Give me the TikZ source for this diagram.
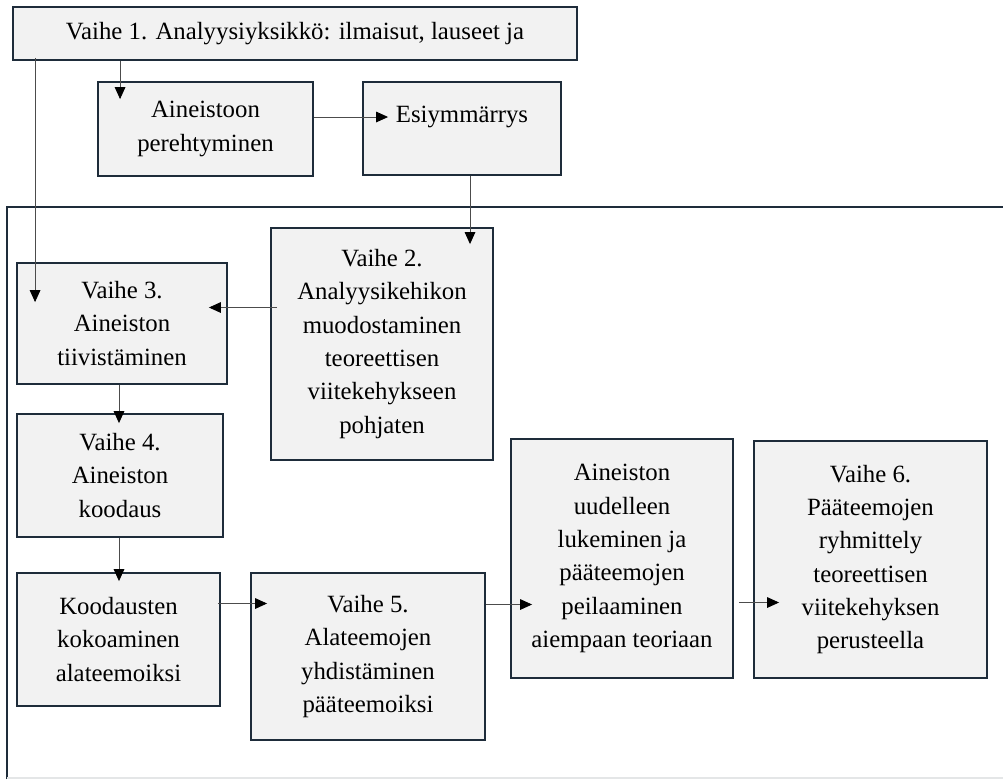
\documentclass[tikz,border=0pt]{standalone}
\usepackage{fontspec}
\setmainfont{Liberation Serif}
\usetikzlibrary{arrows.meta}

\definecolor{boxfill}{HTML}{F2F2F2}
\definecolor{boxline}{HTML}{1E2C3A}

\begin{document}
\begin{tikzpicture}[x=0.75pt, y=-0.75pt,
        box/.style={rectangle, draw=boxline, fill=boxfill, line width=1.4pt, align=center, inner sep=0pt, font=\fontsize{18.6}{25}\selectfont},
        arr/.style={-{Triangle[length=9pt, width=8pt, color=black]}, draw=black!70, line width=0.65pt}]
    \useasboundingbox (0, 0) rectangle (1003, 779);

    % outer frame
    \draw[boxline, line width=1.4pt] (7, 779) -- (7, 207) -- (1003, 207);
    \draw[boxline!12, line width=1pt] (7, 778) -- (1003, 778);

    \node[box, minimum width=423pt, minimum height=39.75pt] (vaihe1) at (295, 33.5) {Vaihe 1. Analyysiyksikkö: ilmaisut, lauseet ja};
    \node[box, minimum width=161.25pt, minimum height=70.5pt] (perehtyminen) at (205.5, 129) {Aineistoon\\perehtyminen};
    \node[box, minimum width=148.5pt, minimum height=69.75pt, text depth=21pt] (esiymmarrys) at (462, 128.5) {Esiymmärrys};
    \node[box, minimum width=166.5pt, minimum height=174pt] (vaihe2) at (382, 344) {Vaihe 2.\\Analyysikehikon\\muodostaminen\\teoreettisen\\viitekehykseen\\pohjaten};
    \node[box, minimum width=157.5pt, minimum height=90.75pt] (vaihe3) at (122, 323.5) {Vaihe 3.\\Aineiston\\tiivistäminen};
    \node[box, minimum width=154.5pt, minimum height=92.25pt] (vaihe4) at (120, 475.5) {Vaihe 4.\\Aineiston\\koodaus};
    \node[box, minimum width=152.25pt, minimum height=99.75pt] (kokoaminen) at (118.5, 639.5) {Koodausten\\kokoaminen\\alateemoiksi};
    \node[box, minimum width=175.5pt, minimum height=125.25pt] (vaihe5) at (368, 656.5) {Vaihe 5.\\Alateemojen\\yhdistäminen\\pääteemoiksi};
    \node[box, minimum width=166.5pt, minimum height=179.25pt] (peilaaminen) at (622, 558.5) {Aineiston\\uudelleen\\lukeminen ja\\pääteemojen\\peilaaminen\\aiempaan teoriaan};
    \node[box, minimum width=174.75pt, minimum height=177.75pt] (vaihe6) at (870.5, 559.5) {Vaihe 6.\\Pääteemojen\\ryhmittely\\teoreettisen\\viitekehyksen\\perusteella};

    \draw[arr] ([shift={(23,0)}]perehtyminen.north west |- vaihe1.south) to ([shift={(23,18)}]perehtyminen.north west);
    \draw[arr] ([shift={(19,-3)}]vaihe3.north west |- vaihe1.south) to ([shift={(19,40)}]vaihe3.north west);
    \draw[arr] ([shift={(0,-12)}]perehtyminen.east) to ([shift={(26,-12)}]esiymmarrys.west |- perehtyminen.east);
    \draw[arr] ([shift={(8,0)}]esiymmarrys.south) to ([shift={(8,17)}]esiymmarrys.south |- vaihe2.north);
    \draw[arr] ([shift={(7,-16)}]vaihe2.west |- vaihe3.east) to ([shift={(-19,-16)}]vaihe3.east);
    \draw[arr] ([shift={(-3,0)}]vaihe3.south) to ([shift={(-3,10)}]vaihe3.south |- vaihe4.north);
    \draw[arr] ([shift={(-1,0)}]vaihe4.south) to ([shift={(-1,9)}]vaihe4.south |- kokoaminen.north);
    \draw[arr] ([shift={(-3,-36)}]kokoaminen.east) to ([shift={(17,-36)}]vaihe5.west |- kokoaminen.east);
    \draw[arr] ([shift={(0,-52)}]vaihe5.east) to ([shift={(22,-52)}]peilaaminen.west |- vaihe5.east);
    \draw[arr] ([shift={(5,44)}]peilaaminen.east) to ([shift={(26,44)}]vaihe6.west |- peilaaminen.east);
\end{tikzpicture}
\end{document}
